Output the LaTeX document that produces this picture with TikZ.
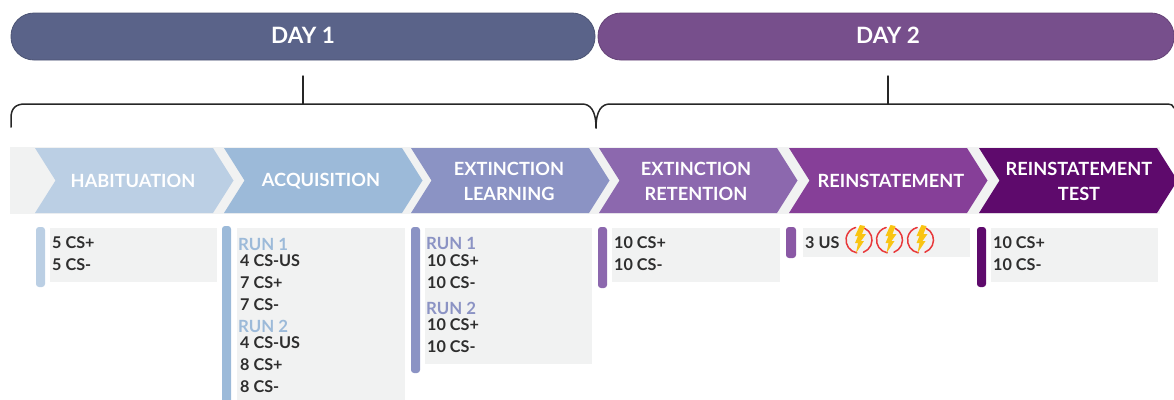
\documentclass[tikz,border=0pt]{standalone}
\usepackage{fontspec}
\setmainfont{Lato}
\definecolor{cHab}{HTML}{BBCFE4}
\definecolor{cAcq}{HTML}{9CBAD9}
\definecolor{cExt}{HTML}{8B93C4}
\definecolor{cRet}{HTML}{8C68AE}
\definecolor{cRei}{HTML}{863F98}
\definecolor{cTst}{HTML}{5E0A6C}
\definecolor{cPanel}{HTML}{F1F2F2}
\definecolor{cDayA}{HTML}{5A6389}
\definecolor{cDayB}{HTML}{774F8C}
\definecolor{cText}{HTML}{2E2E2E}
\definecolor{cRed}{HTML}{E8383A}
\definecolor{cBolt}{HTML}{F9C412}
\tikzset{
  daypill/.style={draw=#1!85!black,fill=#1,line width=.8pt,rounded corners=23pt},
  daytext/.style={text=white,font=\bfseries\fontsize{22.5}{22.5}\selectfont},
  chevtext/.style={text=white,font=\bfseries\fontsize{18.2}{25}\selectfont,align=center,inner sep=0},
  cnt/.style={text=cText,font=\fontsize{16.2}{16.2}\selectfont\bfseries,anchor=west,inner sep=0},
  runlabel/.style={font=\fontsize{16.8}{16.8}\selectfont\bfseries,anchor=west,inner sep=0},
  bracket/.style={draw=black!85,line width=1.5pt,line cap=round},
}
\newcommand{\chev}[2]{\fill[#2] (#1,148) -- ++(178,0) -- ++(20.5,32.5) -- ++(-20.5,32.5) -- ++(-178,0) -- ++(20.5,-32.5) -- cycle;}
\newcommand{\bolticon}[1]{%
  \begin{scope}[shift={(#1,240)}]
    \draw[cRed,line width=1.5pt,line cap=round] (100:13) arc (100:255:13);
    \draw[cRed,line width=1.5pt,line cap=round] (-65:13) arc (-65:70:13);
    \fill[cBolt] (1,-15) -- (6,-14) -- (3,-6) -- (7,-6) -- (2,1) -- (5,1) -- (-3,13) -- (-1,3) -- (-4,3) -- (-1,-4) -- (-4,-4) -- cycle;
  \end{scope}}
\begin{document}
\begin{tikzpicture}[x=1pt,y=-1pt]
\useasboundingbox (0,0) rectangle (1174,399);
\begin{scope}
\clip (0,0) rectangle (1174,399);
% day pills
\draw[daypill=cDayA] (11,13) rectangle (595,60);
\draw[daypill=cDayB] (598,13) rectangle (1174,60);
\node[daytext] (day1) at (303,35) {DAY 1};
\node[daytext] (day2) at (888,35) {DAY 2};
% brackets
\coordinate (stemA) at (303,76);
\coordinate (stemB) at (888,76);
\coordinate (leftEnd) at (11,127);
\coordinate (midEnd) at (596,128);
\coordinate (rightEnd) at (1174,108);
\draw[bracket] (leftEnd) -- (11,118) .. controls (11,108) and (16,104) .. (25,104) -- (582,104) .. controls (590,104) and (596,110) .. (midEnd);
\draw[bracket] (midEnd) .. controls (596,110) and (602,104) .. (610,104) -- (1168,104) .. controls (1171,104) and (1173,105) .. (rightEnd);
\draw[bracket] (stemA) -- (303,104);
\draw[bracket] (stemB) -- (888,104);
% band
\fill[cPanel] (10,147) rectangle (1160,214);
\chev{35}{cHab}
\chev{224}{cAcq}
\chev{411}{cExt}
\chev{599}{cRet}
\chev{789}{cRei}
\chev{979}{cTst}
\node[chevtext] (hab) at (133,181) {HABITUATION};
\node[chevtext] (acq) at (321,181) {ACQUISITION};
\node[chevtext] (ext) at (509,181) {EXTINCTION\\LEARNING};
\node[chevtext] (ret) at (696,181) {EXTINCTION\\RETENTION};
\node[chevtext] (rei) at (891,181) {REINSTATEMENT};
\node[chevtext] (tst) at (1079,181) {REINSTATEMENT\\TEST};
% panels
\fill[cPanel] (50,228) rectangle (217,282);
\fill[cPanel] (237,228) rectangle (405,405);
\fill[cPanel] (425,228) rectangle (592,364);
\fill[cPanel] (612,228) rectangle (780,282);
\fill[cPanel] (803,228) rectangle (970,257);
\fill[cPanel] (991,228) rectangle (1158,282);
% bars
\fill[cHab,rounded corners=3pt] (36,227) rectangle (45,287);
\fill[cAcq,rounded corners=3pt] (222,226) rectangle (231,420);
\fill[cExt,rounded corners=3pt] (411,227) rectangle (420,373);
\fill[cRet,rounded corners=3pt] (598,227) rectangle (607,288);
\fill[cRet!60!cRei,rounded corners=3pt] (786,227) rectangle (796,258);
\fill[cTst,rounded corners=3pt] (977,227) rectangle (986,287);
% habituation
\node[cnt] (h1) at (52,243) {5 CS+};
\node[cnt] (h2) at (52,265) {5 CS-};
% acquisition
\node[runlabel,text=cAcq] (a0) at (238,244) {RUN 1};
\node[cnt] (a1) at (240,261) {4 CS-US};
\node[cnt] (a2) at (240,283) {7 CS+};
\node[cnt] (a3) at (240,305) {7 CS-};
\node[runlabel,text=cAcq] (a4) at (238,326) {RUN 2};
\node[cnt] (a5) at (240,343) {4 CS-US};
\node[cnt] (a6) at (240,365) {8 CS+};
\node[cnt] (a7) at (240,387) {8 CS-};
% extinction learning
\node[runlabel,text=cExt] (e0) at (426,243) {RUN 1};
\node[cnt] (e1) at (427,261) {10 CS+};
\node[cnt] (e2) at (427,283) {10 CS-};
\node[runlabel,text=cExt] (e3) at (426,308) {RUN 2};
\node[cnt] (e4) at (427,325) {10 CS+};
\node[cnt] (e5) at (427,347) {10 CS-};
% retention
\node[cnt] (r1) at (614,243) {10 CS+};
\node[cnt] (r2) at (614,265) {10 CS-};
% reinstatement
\node[cnt] (s1) at (805,243) {3 US};
\bolticon{859}
\bolticon{889.5}
\bolticon{920.5}
% test
\node[cnt] (t1) at (993,243) {10 CS+};
\node[cnt] (t2) at (993,265) {10 CS-};
\end{scope}
\end{tikzpicture}
\end{document}
